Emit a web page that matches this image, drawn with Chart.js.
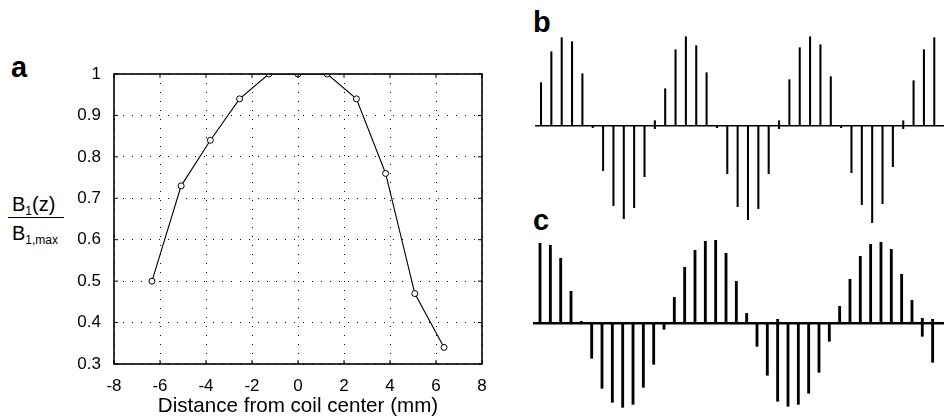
<!DOCTYPE html>
<html>
<head>
<meta charset="utf-8">
<script src="https://cdn.jsdelivr.net/npm/chart.js@4.4.1/dist/chart.umd.min.js"></script>
<style>
  html, body { margin: 0; padding: 0; background: #fff; }
  body { width: 944px; height: 419px; position: relative; overflow: hidden;
         font-family: "Liberation Sans", Arial, sans-serif; color: #000; }
  canvas, .lbl { position: absolute; }
  .panel { font-weight: bold; font-size: 29px; line-height: 29px; }
  .ylab { font-size: 20px; line-height: 20px; white-space: nowrap; }
  .ylab sub { font-size: 12px; vertical-align: -4px; line-height: 0; }
</style>
</head>
<body>
<div class="lbl panel" style="left:11px; top:53px;">a</div>
<div class="lbl panel" style="left:533px; top:8px;">b</div>
<div class="lbl panel" style="left:533px; top:206px;">c</div>

<div class="lbl ylab" style="left:12px; top:194px;">B<sub>1</sub>(z)</div>
<div class="lbl" style="left:8px; top:217px; width:56px; border-top:1.4px solid #000;"></div>
<div class="lbl ylab" style="left:12px; top:223px;">B<sub>1,max</sub></div>

<canvas id="fieldChart" width="500" height="419" style="left:0; top:0;"></canvas>
<canvas id="specB" width="409" height="210" style="left:535px; top:20px;"></canvas>
<canvas id="specC" width="411" height="187" style="left:533px; top:232px;"></canvas>

<script>
// panel a: B1 profile along the coil axis
const distance = [-6.35, -5.08, -3.81, -2.54, -1.27, 0, 1.27, 2.54, 3.81, 5.08, 6.35];
const b1Ratio = [0.50, 0.73, 0.84, 0.94, 1.00, 1.00, 1.00, 0.94, 0.76, 0.47, 0.34];
const xTicks = [-8, -6, -4, -2, 0, 2, 4, 6, 8];
const yTicks = [0.3, 0.4, 0.5, 0.6, 0.7, 0.8, 0.9, 1];

// panels b and c: line amplitudes, one per line index (array = line crossing baseline)
const lineIndex = Array.from({ length: 39 }, (_, i) => i);
const specB = [43, 74, 88, 84, 52, -2, -45, -80, -93, -82, -51, [-3, 5],
               37, 76, 89, 80, 53, -2, -48, -81, -94, -83, -48, [-3, 5],
               46, 78, 89, 81, 49, -2, -47, -79, -97, -78, -41, [-3, 5],
               45, 76, 88];
const specC = [80, 78, 65, 32, 2, -35, -65, -79, -84, -81, -64, -41, -6,
               26, 56, 73, 82, 83, 70, 42, 10, -23, -52, [-78, 4], -83, -81,
               -70, -49, -18, 17, 44, 67, 79, 81, 74, 49, 23, [-13, 5], [-39, 4]];

Chart.defaults.font.family = '"Liberation Sans", Arial, sans-serif';
Chart.defaults.color = '#000';

// matlab-like box with inward ticks
const boxPlugin = {
    id: 'box',
    afterDraw(chart) {
        const { ctx, chartArea: a, scales } = chart;
        ctx.save();
        ctx.strokeStyle = '#000';
        ctx.lineWidth = 1;
        const len = 4;
        scales.x.ticks.forEach((t, i) => {
            const px = scales.x.getPixelForTick(i);
            ctx.beginPath();
            ctx.moveTo(px, a.bottom); ctx.lineTo(px, a.bottom - len);
            ctx.moveTo(px, a.top); ctx.lineTo(px, a.top + len);
            ctx.stroke();
        });
        scales.y.ticks.forEach((t, i) => {
            const py = scales.y.getPixelForTick(i);
            ctx.beginPath();
            ctx.moveTo(a.left, py); ctx.lineTo(a.left + len, py);
            ctx.moveTo(a.right, py); ctx.lineTo(a.right - len, py);
            ctx.stroke();
        });
        ctx.lineWidth = 1.6;
        ctx.strokeRect(a.left, a.top, a.right - a.left, a.bottom - a.top);
        ctx.restore();
    }
};

new Chart(document.getElementById('fieldChart'), {
    type: 'scatter',
    data: {
        datasets: [{
            data: distance.map((x, i) => ({ x: x, y: b1Ratio[i] })),
            showLine: true,
            borderColor: '#000',
            borderWidth: 1.1,
            pointRadius: 3,
            pointBorderWidth: 1,
            pointBackgroundColor: '#fff',
            pointBorderColor: '#000'
        }]
    },
    options: {
        responsive: false,
        animation: false,
        layout: { padding: { top: 74, right: 18, left: 0, bottom: 0 } },
        plugins: { legend: { display: false }, tooltip: { enabled: false } },
        scales: {
            x: {
                type: 'linear', min: -8, max: 8,
                afterBuildTicks: (s) => { s.ticks = xTicks.map(v => ({ value: v })); },
                afterFit: (s) => { s.height = 55; },
                ticks: { font: { size: 17 }, padding: 12 },
                grid: { color: '#000', lineWidth: 1, drawTicks: false },
                border: { display: false, dash: [1, 8] },
                title: {
                    display: true,
                    text: 'Distance from coil center (mm)',
                    font: { size: 20.6 },
                    padding: { top: 0, bottom: 0 }
                }
            },
            y: {
                type: 'linear', min: 0.3, max: 1,
                afterBuildTicks: (s) => { s.ticks = yTicks.map(v => ({ value: v })); },
                afterFit: (s) => { s.width = 114; },
                ticks: { font: { size: 17 }, padding: 13, callback: (v) => String(+v.toFixed(1)) },
                grid: { color: '#000', lineWidth: 1, drawTicks: false },
                border: { display: false, dash: [1, 8] }
            }
        }
    },
    plugins: [boxPlugin]
});

function stickChart(id, values, thickness, xMin, xMax, yMin, yMax, baseWidth) {
    return new Chart(document.getElementById(id), {
        type: 'bar',
        data: {
            datasets: [{
                data: lineIndex.map((x, i) => ({ x: x, y: values[i] })),
                backgroundColor: '#000',
                borderWidth: 0,
                barThickness: thickness
            }]
        },
        options: {
            responsive: false,
            animation: false,
            layout: { padding: 0 },
            plugins: { legend: { display: false }, tooltip: { enabled: false } },
            scales: {
                x: {
                    type: 'linear', min: xMin, max: xMax,
                    offset: false,
                    position: { y: 0 },
                    ticks: { display: false },
                    grid: { display: false, drawTicks: false },
                    border: { display: true, color: '#000', width: baseWidth }
                },
                y: { display: false, min: yMin, max: yMax }
            }
        }
    });
}

stickChart('specB', specB, 1.4, -0.58, 38.94, -104.3, 105.7, 1.6);
stickChart('specC', specC, 2.2, -0.68, 39.1, -95.7, 91.3, 2.4);
</script>
</body>
</html>
